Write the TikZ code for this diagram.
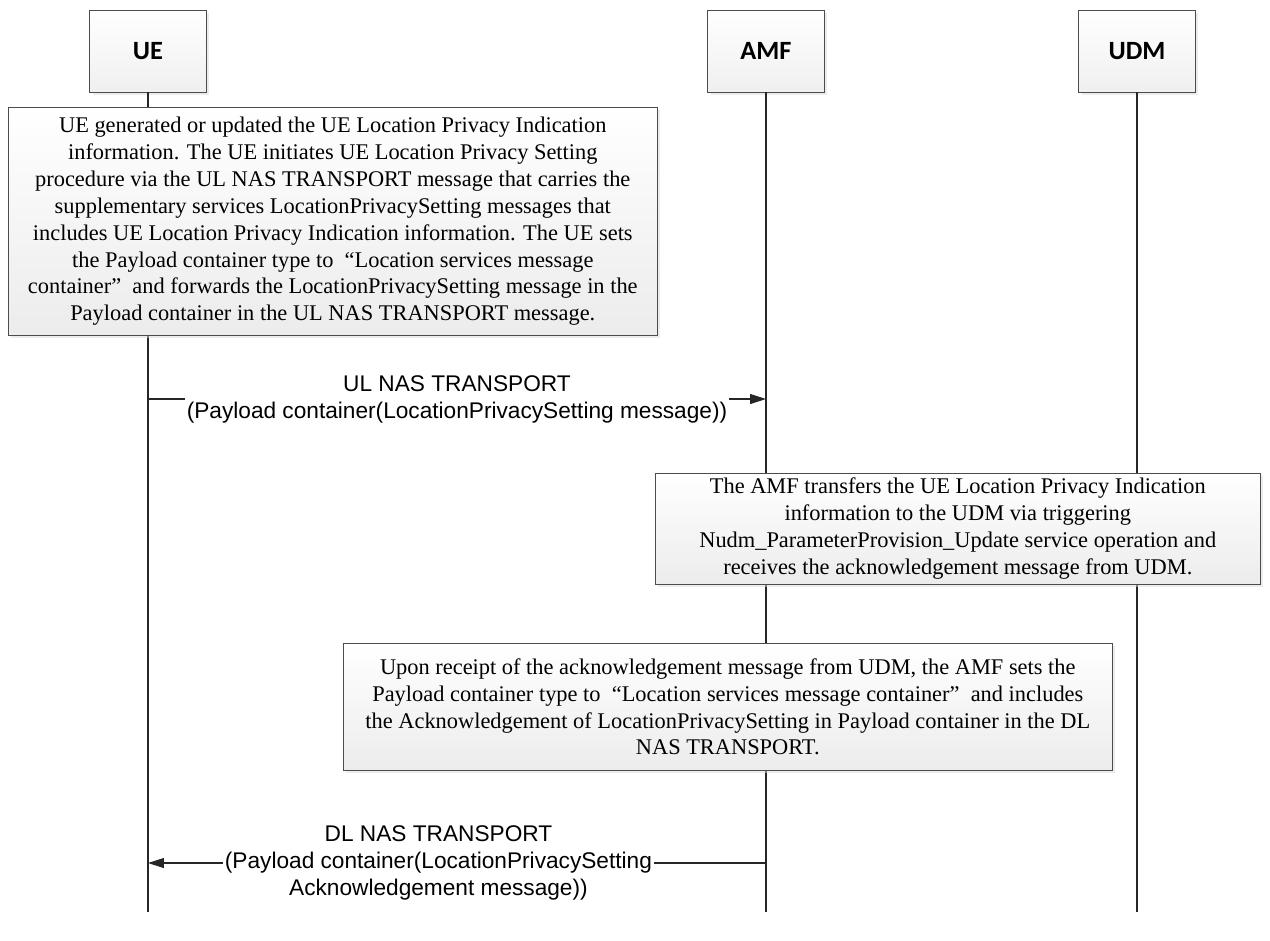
\documentclass[tikz,border=0pt]{standalone}
\usepackage{fontspec}
\setmainfont{Liberation Serif}
\newfontfamily\msgfont{Liberation Sans}
\newfontfamily\headfont{Carlito}
\usetikzlibrary{arrows.meta,shadows}

\tikzset{
    head/.style={draw=gray!60!black, top color=white, bottom color=gray!12,
        drop shadow={shadow xshift=1.7pt, shadow yshift=-1.7pt, fill=gray!30},
        minimum width=2.34cm, minimum height=1.64cm,
        font=\headfont\bfseries\fontsize{15}{18}\selectfont},
    life/.style={draw=gray!30!black, line width=0.6pt},
    note/.style={draw=gray!60!black, top color=white, bottom color=gray!15,
        drop shadow={shadow xshift=1.7pt, shadow yshift=-1.7pt, fill=gray!30},
        anchor=north west, align=center, inner sep=2pt,
        font=\fontsize{12.75}{15.3}\selectfont},
    msg/.style={draw=gray!30!black, line width=0.6pt,
        -{Triangle[length=0.32cm, width=0.2cm]}},
    msglabel/.style={fill=white, align=center, inner sep=1pt,
        font=\msgfont\fontsize{12.9}{15.3}\selectfont}
}

\begin{document}
\begin{tikzpicture}[x=0.02cm, y=-0.02cm]
    \useasboundingbox (0,0) rectangle (1270,940);

    % Heads of the lifelines
    \node[head] (ue) at (148,51) {UE};
    \node[head] (amf) at (766,51) {AMF};
    \node[head] (udm) at (1137,51) {UDM};

    % Lifelines
    \coordinate (ue-end) at (ue |- 0,912);
    \coordinate (amf-end) at (amf |- 0,912);
    \coordinate (udm-end) at (udm |- 0,912);
    \draw[life] (ue) -- (ue-end);
    \draw[life] (amf) -- (amf-end);
    \draw[life] (udm) -- (udm-end);

    % UE side step
    \node[note, minimum width=12.98cm, minimum height=4.56cm] (ue-note) at (8,107)
        {UE generated or updated the UE Location Privacy Indication\\
         information. The UE initiates UE Location Privacy Setting\\
         procedure via the UL NAS TRANSPORT message that carries the\\
         supplementary services LocationPrivacySetting messages that\\
         includes UE Location Privacy Indication information. The UE sets\\
         the Payload container type to\enspace“Location services message\\
         container”\enspace and forwards the LocationPrivacySetting message in the\\
         Payload container in the UL NAS TRANSPORT message.};

    % UL NAS TRANSPORT
    \coordinate (ul-from) at (ue |- 0,399);
    \coordinate (ul-to) at (amf |- 0,399);
    \draw[msg] (ul-from) -- node[msglabel] (ul-text)
        {UL NAS TRANSPORT\\(Payload container(LocationPrivacySetting message))} (ul-to);

    % AMF to UDM step
    \node[note, minimum width=12.1cm, minimum height=2.22cm] (amf-note) at (655,473)
        {The AMF transfers the UE Location Privacy Indication\\
         information to the UDM via triggering\\
         Nudm\_ParameterProvision\_Update service operation and\\
         receives the acknowledgement message from UDM.};

    % AMF step after the acknowledgement
    \node[note, minimum width=15.38cm, minimum height=2.54cm] (ack-note) at (343,643)
        {Upon receipt of the acknowledgement message from UDM, the AMF sets the\\
         Payload container type to\enspace“Location services message container”\enspace and includes\\
         the Acknowledgement of LocationPrivacySetting in Payload container in the DL\\
         NAS TRANSPORT.};

    % DL NAS TRANSPORT
    \coordinate (dl-from) at (amf |- 0,863);
    \coordinate (dl-to) at (ue |- 0,863);
    \draw[msg] (dl-from) -- node[msglabel, pos=0.53] (dl-text)
        {DL NAS TRANSPORT\\(Payload container(LocationPrivacySetting\\Acknowledgement message))} (dl-to);
\end{tikzpicture}
\end{document}
